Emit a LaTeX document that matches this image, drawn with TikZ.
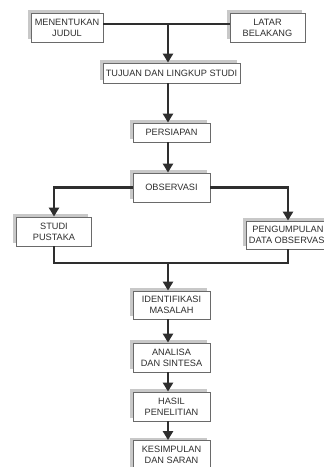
\documentclass[tikz,border=0pt]{standalone}
\usepackage{fontspec}
\setmainfont{Liberation Sans}
\usetikzlibrary{arrows.meta,shadows}
\definecolor{inkgray}{HTML}{2E2E2E}
\definecolor{framegray}{HTML}{6A6A6A}
\definecolor{shadegray}{HTML}{C8C8C8}
\begin{document}
\begin{tikzpicture}[x=1pt, y=-1pt,
    stepbox/.style={draw=framegray, line width=0.8pt, fill=white, align=center,
      text=inkgray, inner sep=0pt, minimum width=77pt, minimum height=29pt,
      font=\fontsize{9.2}{11}\selectfont,
      drop shadow={shadow xshift=-3.5pt, shadow yshift=2.8pt, fill=shadegray, opacity=1}},
    link/.style={draw=inkgray, line width=2.3pt},
    arr/.style={link, -{Triangle[length=9pt,width=10pt]}}]
  \useasboundingbox (0,0) rectangle (324,467);
  \clip (0,0) rectangle (324,467);

  % top boxes
  \node[stepbox, minimum width=72pt] (judul) at (67,27.5) {MENENTUKAN\\JUDUL};
  \node[stepbox, minimum width=75pt] (latar) at (267.5,27.5) {LATAR\\BELAKANG};
  \node[stepbox, minimum width=137pt, minimum height=20pt] (tujuan) at (171.5,73) {TUJUAN DAN LINGKUP STUDI};
  \node[stepbox, minimum height=19pt] (persiapan) at (171.5,132.5) {PERSIAPAN};
  \node[stepbox] (observasi) at (171.5,187.5) {OBSERVASI};

  % two branches
  \node[stepbox, minimum width=75pt] (studi) at (54,231.5) {STUDI\\PUSTAKA};
  \node[stepbox, minimum width=84pt, minimum height=28pt] (kumpul) at (288,235) {PENGUMPULAN\\DATA OBSERVASI};

  % lower chain
  \node[stepbox, minimum height=28pt] (identifikasi) at (171.5,305) {IDENTIFIKASI\\MASALAH};
  \node[stepbox] (analisa) at (171.5,357.5) {ANALISA\\DAN SINTESA};
  \node[stepbox] (hasil) at (171.5,406.5) {HASIL\\PENELITIAN};
  \node[stepbox] (simpulan) at (171.5,455) {KESIMPULAN\\DAN SARAN};

  % junctions
  \coordinate (atas) at (168,24);
  \coordinate (bawah) at (168,263);

  % connectors
  \draw[link] (judul.east |- atas) -- (latar.west |- atas);
  \draw[arr] (atas) -- (atas |- tujuan.north);
  \draw[arr] (atas |- tujuan.south) -- (atas |- persiapan.north);
  \draw[arr] (atas |- persiapan.south) -- (atas |- observasi.north);
  \draw[arr] (observasi.west) -| (studi.north);
  \draw[arr] (observasi.east) -| (kumpul.north);
  \draw[link] (studi.south) |- (kumpul.south |- bawah) -- (kumpul.south);
  \draw[arr] (bawah) -- (bawah |- identifikasi.north);
  \draw[arr] (bawah |- identifikasi.south) -- (bawah |- analisa.north);
  \draw[arr] (bawah |- analisa.south) -- (bawah |- hasil.north);
  \draw[arr] (bawah |- hasil.south) -- (bawah |- simpulan.north);

\end{tikzpicture}
\end{document}
